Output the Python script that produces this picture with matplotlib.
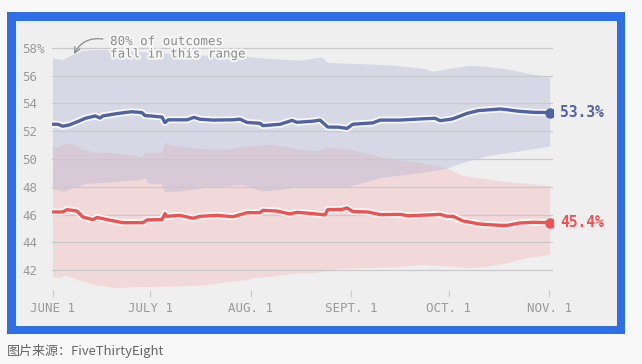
import numpy as np
import matplotlib
matplotlib.use("Agg")
import matplotlib.pyplot as plt
import matplotlib.patheffects as pe
from matplotlib.patches import Rectangle

# days counted from June 1
blue_days = [0, 1.5, 3, 5, 7.7, 10, 13, 14.5, 15.4, 19, 22, 24.4, 27.4, 28.4, 30,
             33.6, 34.5, 35.5, 41.3, 43.5, 45.3, 49.3, 55.5, 57.6, 59.8, 63.8, 64.7,
             70, 73.7, 75.2, 80, 82.3, 84.7, 88, 90.6, 92.4, 98.6, 100.8, 106.9,
             113.1, 117.7, 119.3, 122.3, 123.3, 127.6, 131, 137.8, 139.9, 143, 147.9,
             151, 153.2]
blue_vals = [52.5, 52.5, 52.36, 52.45, 52.7, 52.93, 53.1, 52.95, 53.1, 53.24, 53.34,
             53.4, 53.34, 53.12, 53.1, 53.02, 52.62, 52.82, 52.82, 53.0, 52.86, 52.8,
             52.82, 52.87, 52.63, 52.57, 52.4, 52.5, 52.78, 52.64, 52.72, 52.8, 52.3,
             52.29, 52.2, 52.5, 52.6, 52.8, 52.8, 52.88, 52.93, 52.76, 52.85, 52.9,
             53.28, 53.48, 53.6, 53.55, 53.45, 53.36, 53.35, 53.33]

red_days = [0, 3, 4.3, 7.4, 9.2, 12.3, 13.6, 17.6, 21.6, 27.7, 29, 33.6, 34.5, 35.1,
            39.1, 43.1, 45.3, 50.5, 55.5, 59.8, 63.8, 64.7, 69, 73, 75.2, 80.1, 83.8,
            84.7, 89.1, 90.6, 92.4, 97.1, 100.8, 106.9, 109.4, 113.1, 117.7, 119.3,
            121.4, 123.3, 126.3, 131.6, 137.8, 140, 143.9, 147.9, 153.2]
red_vals = [46.19, 46.19, 46.36, 46.26, 45.83, 45.64, 45.8, 45.6, 45.42, 45.42, 45.62,
            45.65, 46.07, 45.88, 45.95, 45.74, 45.88, 45.95, 45.85, 46.14, 46.14, 46.31,
            46.26, 46.05, 46.17, 46.07, 45.98, 46.36, 46.38, 46.48, 46.22, 46.19, 46.0,
            46.02, 45.92, 45.95, 46.0, 46.02, 45.88, 45.88, 45.55, 45.32, 45.23, 45.23,
            45.4, 45.45, 45.42]

# 80% ranges
bu_days = [0, 3, 6, 9, 13.6, 20, 30, 40, 50, 59.8, 63.8, 76, 81, 83, 84.7, 88, 93,
           98.3, 105.4, 113.7, 117.3, 123.3, 128.5, 133.7, 139.9, 146, 153.2]
bu_vals = [57.24, 57.1, 57.47, 57.76, 57.85, 57.8, 57.65, 57.5, 57.4, 57.36, 57.24,
           57.07, 57.24, 57.3, 56.92, 56.88, 56.83, 56.8, 56.7, 56.5, 56.28, 56.52,
           56.7, 56.63, 56.45, 56.16, 55.85]
bl_days = [0, 3.5, 7.7, 10, 18, 27, 28.7, 29.3, 33.6, 34.5, 39, 43, 48, 55, 58.5, 61.6,
           64.7, 70, 76, 84.7, 90, 97, 101.4, 108.5, 114.6, 121.4, 126.3, 133.7, 143.9,
           153.2]
bl_vals = [47.82, 47.66, 48.0, 48.2, 48.33, 48.5, 48.58, 48.24, 48.17, 47.62, 47.66,
           47.78, 47.95, 48.05, 48.12, 47.88, 47.67, 47.76, 48.0, 48.0, 47.93, 48.36,
           48.65, 48.84, 49.03, 49.3, 49.71, 50.19, 50.55, 50.9]
ru_days = [0, 1.5, 3.7, 6.8, 9, 13, 18.2, 23, 27.4, 28.4, 33.6, 34.5, 37, 42.7, 48.8,
           54.9, 58.6, 62.9, 66.9, 70.9, 75, 81, 84.7, 90, 98.3, 101.4, 113.7, 121,
           126.3, 138.7, 153.2]
ru_vals = [50.96, 50.79, 51.1, 51.03, 50.67, 50.47, 50.43, 50.31, 50.14, 50.43, 50.47,
           51.2, 50.96, 50.79, 50.67, 50.7, 50.86, 50.96, 51.03, 50.9, 50.72, 50.55,
           50.79, 50.72, 50.31, 50.07, 49.71, 49.35, 48.8, 48.37, 48.07]
rl_days = [0, 2, 3.7, 7.7, 12.9, 19.7, 24.7, 35.1, 46.2, 52.4, 59.8, 61.6, 67.6, 75.2,
           79.8, 84.7, 87.8, 95.2, 105.4, 113.7, 122.3, 128.5, 133.7, 139.9, 146, 153.2]
rl_vals = [41.54, 41.42, 41.62, 41.3, 40.94, 40.7, 40.78, 40.82, 40.89, 41.1, 41.3,
           41.42, 41.54, 41.78, 41.78, 41.95, 42.09, 42.14, 42.2, 42.38, 42.26, 42.14,
           42.26, 42.5, 42.86, 43.1]

tick_days = [0, 30, 61, 92, 122, 153]
tick_labels = ["JUNE 1", "JULY 1", "AUG. 1", "SEPT. 1", "OCT. 1", "NOV. 1"]
y_ticks = [42, 44, 46, 48, 50, 52, 54, 56, 58]
y_labels = ["42", "44", "46", "48", "50", "52", "54", "56", "58%"]

BLUE = "#5061a8"
RED = "#f05252"
GRAY = "#9a9a9a"
MONO = "DejaVu Sans Mono"

W, H = 642, 364
fig = plt.figure(figsize=(W / 100, H / 100), dpi=100, facecolor="#f7f8f7")

# blue frame and grey panel
fig.add_artist(Rectangle((7 / W, 1 - 334 / H), 618 / W, 322 / H, transform=fig.transFigure,
                         facecolor="#2f6fe6", edgecolor="none", zorder=-2))
fig.add_artist(Rectangle((16 / W, 1 - 326 / H), 601 / W, 305 / H, transform=fig.transFigure,
                         facecolor="#efefef", edgecolor="none", zorder=-1))

ax = fig.add_axes([52 / W, 1 - 290 / H, 501 / W, 245 / H])
ax.patch.set_alpha(0)

# bands
ax.fill(np.r_[ru_days, rl_days[::-1]], np.r_[ru_vals, rl_vals[::-1]],
        color="#f2d9d9", lw=0, zorder=1)
ax.fill(np.r_[bu_days, bl_days[::-1]], np.r_[bu_vals, bl_vals[::-1]],
        color="#a2a9d0", alpha=0.32, lw=0, zorder=1.1)

halo = [pe.Stroke(linewidth=5, foreground="#f8f8f8"), pe.Normal()]
ax.plot(blue_days, blue_vals, color=BLUE, lw=2.4, zorder=3, path_effects=halo,
        solid_capstyle="round")
ax.plot(red_days, red_vals, color=RED, lw=2.4, zorder=3, path_effects=halo,
        solid_capstyle="round")
ax.plot(blue_days[-1], blue_vals[-1], "o", color=BLUE, ms=6.5, zorder=4)
ax.plot(red_days[-1], red_vals[-1], "o", color=RED, ms=6.5, zorder=4)

ax.annotate("53.3%", xy=(blue_days[-1], blue_vals[-1]), xytext=(7.5, 0),
            textcoords="offset points", va="center", ha="left", color=BLUE,
            fontsize=10.5, fontweight="bold", family=MONO)
ax.annotate("45.4%", xy=(red_days[-1], red_vals[-1]), xytext=(7.5, 0),
            textcoords="offset points", va="center", ha="left", color=RED,
            fontsize=10.5, fontweight="bold", family=MONO)

# range note
txt_halo = [pe.withStroke(linewidth=3, foreground="#f6f6f6")]
ax.text(17.6, 58.0, "80% of outcomes\nfall in this range", ha="left", va="center",
        fontsize=9, family=MONO, color="#8c8c8c", linespacing=0.95,
        path_effects=txt_halo, zorder=5)
ax.annotate("", xy=(6.5, 57.55), xytext=(15.4, 58.63),
            arrowprops=dict(arrowstyle="->", color="#8c8c8c", lw=0.9,
                            connectionstyle="arc3,rad=0.35", shrinkA=0, shrinkB=0),
            zorder=5, annotation_clip=False)

ax.set_xlim(-0.3, 154.1)
ax.set_ylim(40.58, 58.2)
ax.set_yticks(y_ticks)
ax.set_yticklabels(y_labels)
ax.set_xticks(tick_days)
ax.set_xticklabels(tick_labels)
ax.grid(axis="y", color="#c9c9cc", lw=0.9)
for s in ax.spines.values():
    s.set_visible(False)
ax.tick_params(axis="y", length=0, pad=21.6, labelsize=9, labelcolor=GRAY)
ax.tick_params(axis="x", length=5, width=0.8, color="#cccccc", pad=4,
               labelsize=9, labelcolor=GRAY)
for lab in ax.get_yticklabels():
    lab.set_horizontalalignment("left")
    lab.set_family(MONO)
for lab in ax.get_xticklabels():
    lab.set_family(MONO)

fig.text(7 / W, 1 - 351 / H, "图片来源：FiveThirtyEight", ha="left", va="center",
         fontsize=9.4, color="#666666", family=["Noto Sans CJK SC", "DejaVu Sans"])

fig.savefig("out.png", dpi=100, facecolor=fig.get_facecolor())
